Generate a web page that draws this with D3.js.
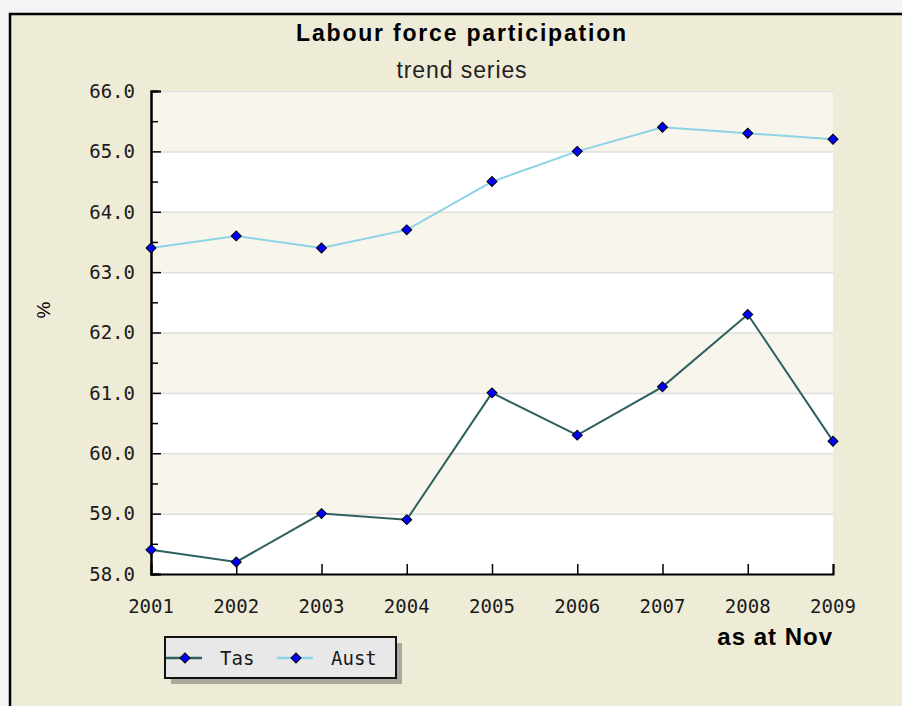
<!DOCTYPE html>
<html>
<head>
<meta charset="utf-8">
<script src="https://cdn.jsdelivr.net/npm/d3@7"></script>
<style>
  body { margin: 0; background: #f4f4f4; }
  svg { display: block; }
</style>
</head>
<body>
<div id="chart"></div>
<script>
// chart values
const years = [2001, 2002, 2003, 2004, 2005, 2006, 2007, 2008, 2009];
const tas = [58.4, 58.2, 59.0, 58.9, 61.0, 60.3, 61.1, 62.3, 60.2];
const aust = [63.4, 63.6, 63.4, 63.7, 64.5, 65.0, 65.4, 65.3, 65.2];
const yTicks = [58, 59, 60, 61, 62, 63, 64, 65, 66];

const series = [
	{ name: "Tas", values: tas, color: "#2f6060" },
	{ name: "Aust", values: aust, color: "#8dd3e6" }
];

const W = 902, H = 706;
const margin = { top: 91, right: 69, bottom: 132, left: 151 };
const width = W - margin.left - margin.right;
const height = H - margin.top - margin.bottom;

const svg = d3.select("#chart").append("svg")
	.attr("width", W)
	.attr("height", H);

// outer panel with black frame on top and left
svg.append("rect")
	.attr("x", 10).attr("y", 14)
	.attr("width", W - 10).attr("height", H - 14)
	.attr("fill", "#eeebd6");
svg.append("path")
	.attr("d", "M10," + H + "V14H" + W)
	.attr("fill", "none")
	.attr("stroke", "#000")
	.attr("stroke-width", 2.5);

const g = svg.append("g")
	.attr("transform", "translate(" + [margin.left, margin.top] + ")");

const x = d3.scaleLinear().domain([2001, 2009]).range([0, width]);
const y = d3.scaleLinear().domain([58, 66]).range([height, 0]);

// alternating bands, top band cream
g.selectAll("rect.band")
	.data(yTicks.slice(0, -1))
	.enter().append("rect")
	.attr("class", "band")
	.attr("x", 0)
	.attr("y", d => y(d + 1))
	.attr("width", width)
	.attr("height", d => y(d) - y(d + 1))
	.attr("fill", d => (d % 2 === 1) ? "#f8f6ec" : "#ffffff");

// gridlines
g.selectAll("line.grid")
	.data(yTicks)
	.enter().append("line")
	.attr("class", "grid")
	.attr("x1", 0).attr("x2", width)
	.attr("y1", d => y(d) + 0.5).attr("y2", d => y(d) + 0.5)
	.attr("stroke", "#dedede")
	.attr("stroke-width", 1.5);

// axes: ticks point into the plot
const yMinor = g.append("g")
	.call(d3.axisRight(y).tickValues(yTicks.slice(0, -1).map(d => d + 0.5)).tickSize(7).tickFormat(""));
const yAxis = g.append("g")
	.call(d3.axisRight(y).tickValues(yTicks).tickSize(10).tickFormat(""));
const xAxis = g.append("g")
	.attr("transform", "translate(0," + height + ")")
	.call(d3.axisTop(x).tickValues(years).tickSize(10).tickFormat(""));

[yMinor, yAxis, xAxis].forEach(a => {
	a.select(".domain").attr("stroke", "#000").attr("stroke-width", 2);
	a.selectAll(".tick line").attr("stroke", "#000").attr("stroke-width", 1.5);
});

// tick labels
const monoFont = "'DejaVu Sans Mono', monospace";
g.selectAll("text.ylab")
	.data(yTicks)
	.enter().append("text")
	.attr("class", "ylab")
	.attr("x", -16)
	.attr("y", d => y(d))
	.attr("dy", "0.36em")
	.attr("text-anchor", "end")
	.style("font-family", monoFont)
	.style("font-size", "19px")
	.attr("fill", "#1a1a1a")
	.text(d => d.toFixed(1));

g.selectAll("text.xlab")
	.data(years)
	.enter().append("text")
	.attr("class", "xlab")
	.attr("x", d => x(d))
	.attr("y", height + 39)
	.attr("text-anchor", "middle")
	.style("font-family", monoFont)
	.style("font-size", "19px")
	.attr("fill", "#1a1a1a")
	.text(d => d);

// lines and markers
const line = d3.line()
	.x((d, i) => x(years[i]))
	.y(d => y(d));

// marker: square turned 45 degrees
const marker = d3.symbol().type(d3.symbolSquare).size(50);

series.forEach(s => {
	g.append("path")
		.datum(s.values)
		.attr("fill", "none")
		.attr("stroke", s.color)
		.attr("stroke-width", 2)
		.attr("d", line);
	g.selectAll(null)
		.data(s.values)
		.enter().append("path")
		.attr("transform", (d, i) => "translate(" + [x(years[i]), y(d)] + ") rotate(45)")
		.attr("d", marker)
		.attr("fill", "#0000ff")
		.attr("stroke", "#000")
		.attr("stroke-width", 1);
});

// titles
const sansFont = "'Liberation Sans', Arial, sans-serif";
svg.append("text")
	.attr("x", 462).attr("y", 41)
	.attr("text-anchor", "middle")
	.style("font-family", sansFont)
	.style("font-weight", "bold")
	.style("font-size", "23px")
	.style("letter-spacing", "1.8px")
	.attr("fill", "#000")
	.text("Labour force participation");
svg.append("text")
	.attr("x", 462).attr("y", 78)
	.attr("text-anchor", "middle")
	.style("font-family", sansFont)
	.style("font-size", "23px")
	.style("letter-spacing", "0.9px")
	.attr("fill", "#222")
	.text("trend series");
svg.append("text")
	.attr("x", 833).attr("y", 645)
	.attr("text-anchor", "end")
	.style("font-family", sansFont)
	.style("font-weight", "bold")
	.style("font-size", "24px")
	.style("letter-spacing", "1px")
	.attr("fill", "#000")
	.text("as at Nov");
svg.append("text")
	.attr("transform", "translate(50,310) rotate(-90)")
	.attr("text-anchor", "middle")
	.style("font-family", sansFont)
	.style("font-size", "19px")
	.attr("fill", "#000")
	.text("%");

// legend
const legend = svg.append("g").attr("transform", "translate(165,637)");
legend.append("rect")
	.attr("x", 6).attr("y", 6)
	.attr("width", 231).attr("height", 41)
	.attr("fill", "#a9a89a");
legend.append("rect")
	.attr("x", 0).attr("y", 0)
	.attr("width", 231).attr("height", 41)
	.attr("fill", "#e8e8e8")
	.attr("stroke", "#111")
	.attr("stroke-width", 2);

const item = legend.selectAll("g.item")
	.data(series)
	.enter().append("g")
	.attr("class", "item")
	.attr("transform", (d, i) => "translate(" + (1 + i * 111) + ",21)");
item.append("line")
	.attr("x1", 0).attr("x2", 36)
	.attr("stroke", d => d.color)
	.attr("stroke-width", 2.5);
item.append("path")
	.attr("transform", "translate(19,0) rotate(45)")
	.attr("d", marker)
	.attr("fill", "#0000ff")
	.attr("stroke", "#000")
	.attr("stroke-width", 1);
item.append("text")
	.attr("x", 54)
	.attr("dy", "0.36em")
	.style("font-family", monoFont)
	.style("font-size", "19px")
	.attr("fill", "#1a1a1a")
	.text(d => d.name);
</script>
</body>
</html>
